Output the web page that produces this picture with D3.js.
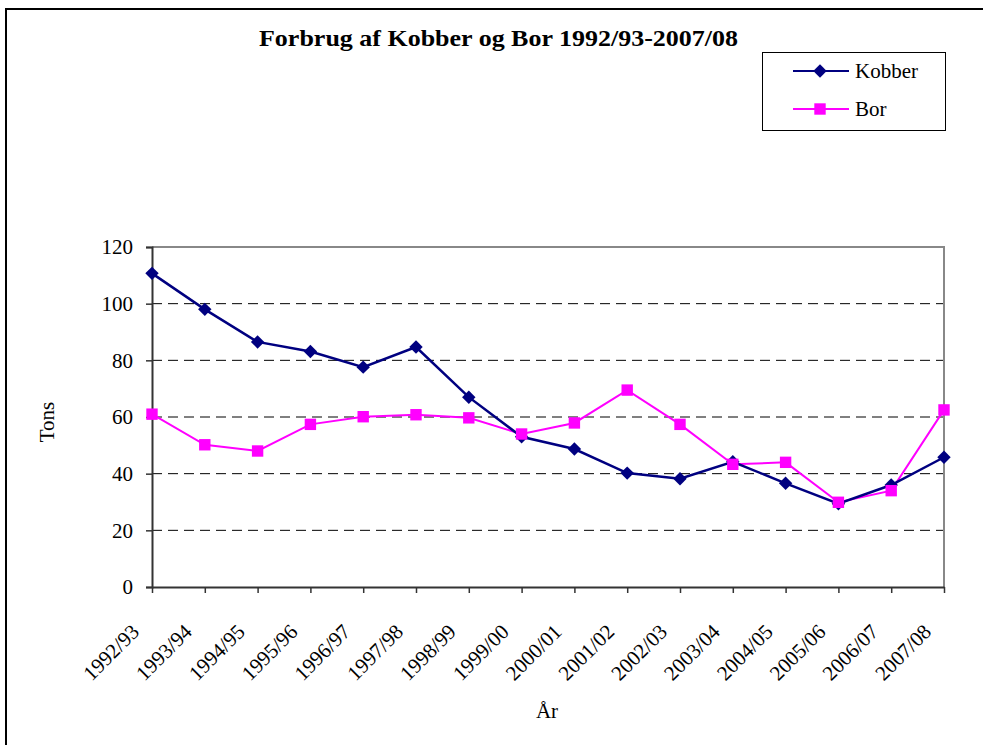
<!DOCTYPE html>
<html>
<head>
<meta charset="utf-8">
<script src="https://cdn.jsdelivr.net/npm/d3@7"></script>
<style>
  body { margin: 0; background: #fff; }
  text { font-family: "Liberation Serif", "Times New Roman", serif; fill: #000; }
</style>
</head>
<body>
<div id="chart"></div>
<script>
// data
const years = ['1992/93', '1993/94', '1994/95', '1995/96', '1996/97', '1997/98', '1998/99', '1999/00',
               '2000/01', '2001/02', '2002/03', '2003/04', '2004/05', '2005/06', '2006/07', '2007/08'];
const kobber = [110.7, 98, 86.5, 83.1, 77.6, 84.7, 67, 53, 48.7, 40.2, 38.2, 44.2, 36.6, 29.4, 36, 45.8];
const bor = [61, 50.2, 48, 57.4, 60.1, 60.8, 59.7, 54, 57.9, 69.5, 57.4, 43.3, 44, 29.9, 34, 62.5];
const yTicks = [0, 20, 40, 60, 80, 100, 120];

const width = 983;
const height = 745;
const plot = { left: 152, right: 944, top: 247, bottom: 587 };

const svg = d3.select('#chart')
  .append('svg')
  .attr('width', width)
  .attr('height', height);

// outer frame (top + left edges only)
svg.append('path')
  .attr('d', `M6,${height} L6,9 L${width},9`)
  .attr('fill', 'none')
  .attr('stroke', '#000')
  .attr('stroke-width', 2);

const x = d3.scalePoint().domain(years).range([plot.left, plot.right]).padding(0);
const y = d3.scaleLinear().domain([0, 120]).range([plot.bottom, plot.top]);

// dashed grid lines
svg.selectAll('.grid')
  .data(yTicks.filter(d => d > 0 && d < 120))
  .enter()
  .append('line')
  .attr('x1', plot.left)
  .attr('x2', plot.right)
  .attr('y1', d => y(d))
  .attr('y2', d => y(d))
  .attr('stroke', '#000')
  .attr('stroke-dasharray', '10,6');

// plot area border top/right (gray)
svg.append('path')
  .attr('d', `M${plot.left},${y(120)} L${plot.right},${y(120)} L${plot.right},${plot.bottom}`)
  .attr('fill', 'none')
  .attr('stroke', '#888')
  .attr('stroke-width', 2);

// y axis
const yAxis = svg.append('g')
  .attr('transform', `translate(${plot.left},0)`)
  .call(d3.axisLeft(y).tickValues(yTicks).tickSize(6).tickPadding(13));
yAxis.select('.domain').attr('stroke', '#333').attr('stroke-width', 2);
yAxis.selectAll('.tick line').attr('stroke', '#333').attr('stroke-width', 1.5);
yAxis.selectAll('.tick text')
  .style('font-family', '"Liberation Serif", serif')
  .style('font-size', '21px')
  .attr('fill', '#000');

// x axis
const xAxis = svg.append('g')
  .attr('transform', `translate(0,${plot.bottom})`)
  .call(d3.axisBottom(x).tickSize(6).tickSizeOuter(0));
xAxis.select('.domain').attr('stroke', '#333').attr('stroke-width', 2);
xAxis.selectAll('.tick line').attr('stroke', '#333').attr('stroke-width', 1.5);
xAxis.selectAll('.tick text')
  .style('font-family', '"Liberation Serif", serif')
  .style('font-size', '21px')
  .attr('fill', '#000')
  .attr('text-anchor', 'end')
  .attr('dy', 0)
  .attr('y', 0)
  .attr('transform', 'translate(-12,46) rotate(-45)');

// lines
const line = d3.line()
  .x((d, i) => x(years[i]))
  .y(d => y(d));

svg.append('path')
  .datum(bor)
  .attr('d', line)
  .attr('fill', 'none')
  .attr('stroke', '#ff00ff')
  .attr('stroke-width', 2);

svg.append('path')
  .datum(kobber)
  .attr('d', line)
  .attr('fill', 'none')
  .attr('stroke', '#000080')
  .attr('stroke-width', 2.5);

const diamond = d3.symbol().type(d3.symbolSquare).size(90);
const square = d3.symbol().type(d3.symbolSquare).size(130);

svg.selectAll('.kob')
  .data(kobber)
  .enter()
  .append('path')
  .attr('d', diamond)
  .attr('transform', (d, i) => `translate(${x(years[i])},${y(d)}) rotate(45)`)
  .attr('fill', '#000080');

svg.selectAll('.bor')
  .data(bor)
  .enter()
  .append('path')
  .attr('d', square)
  .attr('transform', (d, i) => `translate(${x(years[i])},${y(d)})`)
  .attr('fill', '#ff00ff');

// title
svg.append('text')
  .attr('x', 259)
  .attr('y', 46)
  .attr('textLength', 479)
  .attr('lengthAdjust', 'spacingAndGlyphs')
  .style('font-size', '23px')
  .style('font-weight', 'bold')
  .text('Forbrug af Kobber og Bor 1992/93-2007/08');

// axis titles
svg.append('text')
  .attr('transform', 'translate(54,422) rotate(-90)')
  .attr('text-anchor', 'middle')
  .style('font-size', '21px')
  .text('Tons');

svg.append('text')
  .attr('x', 547)
  .attr('y', 718)
  .attr('text-anchor', 'middle')
  .style('font-size', '21px')
  .text('År');

// legend
const legend = svg.append('g');
legend.append('rect')
  .attr('x', 762.5)
  .attr('y', 52.5)
  .attr('width', 183)
  .attr('height', 78)
  .attr('fill', '#fff')
  .attr('stroke', '#000')
  .attr('stroke-width', 1);

const legendItems = [
  { name: 'Kobber', color: '#000080', sym: diamond, rot: 45, yy: 71 },
  { name: 'Bor', color: '#ff00ff', sym: square, rot: 0, yy: 109 }
];
legendItems.forEach(it => {
  legend.append('line')
    .attr('x1', 793).attr('x2', 849)
    .attr('y1', it.yy).attr('y2', it.yy)
    .attr('stroke', it.color).attr('stroke-width', 2);
  legend.append('path')
    .attr('d', it.sym)
    .attr('transform', `translate(820,${it.yy}) rotate(${it.rot})`)
    .attr('fill', it.color);
  legend.append('text')
    .attr('x', 855)
    .attr('y', it.yy + 7)
    .style('font-size', '21px')
    .text(it.name);
});
</script>
</body>
</html>
